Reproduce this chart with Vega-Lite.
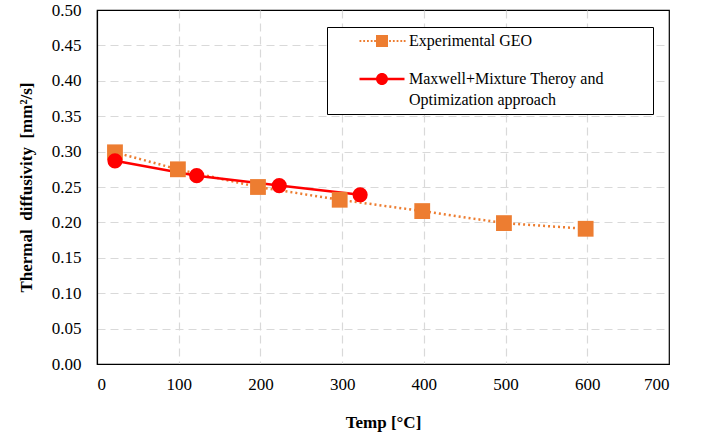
{
  "$schema": "https://vega.github.io/schema/vega-lite/v6.json",
  "autosize": "none",
  "width": 572,
  "height": 354,
  "padding": {"left": 97, "top": 10, "right": 44, "bottom": 72},
  "background": "white",
  "config": {
    "font": "Liberation Serif",
    "view": {"stroke": "black", "strokeWidth": 1.2},
    "axis": {
      "labelFont": "Liberation Serif",
      "labelFontSize": 17,
      "labelColor": "black",
      "titleFont": "Liberation Serif",
      "titleFontSize": 17,
      "titleFontWeight": "bold",
      "titleColor": "black",
      "grid": true,
      "gridColor": "#d9d9d9",
      "gridDash": [8, 5],
      "gridWidth": 1.2,
      "ticks": false,
      "domainColor": "black",
      "domainWidth": 1.2
    }
  },
  "data": {
    "values": [
      {"series": "Experimental GEO", "temp": 22, "diff": 0.299},
      {"series": "Experimental GEO", "temp": 99, "diff": 0.275},
      {"series": "Experimental GEO", "temp": 197, "diff": 0.250},
      {"series": "Experimental GEO", "temp": 297, "diff": 0.232},
      {"series": "Experimental GEO", "temp": 398, "diff": 0.216},
      {"series": "Experimental GEO", "temp": 498, "diff": 0.199},
      {"series": "Experimental GEO", "temp": 598, "diff": 0.191},
      {"series": "Maxwell+Mixture Theroy and Optimization approach", "temp": 22, "diff": 0.287},
      {"series": "Maxwell+Mixture Theroy and Optimization approach", "temp": 122, "diff": 0.266},
      {"series": "Maxwell+Mixture Theroy and Optimization approach", "temp": 223, "diff": 0.252},
      {"series": "Maxwell+Mixture Theroy and Optimization approach", "temp": 322, "diff": 0.239}
    ]
  },
  "encoding": {
    "x": {
      "field": "temp", "type": "quantitative",
      "scale": {"domain": [0, 700], "nice": false},
      "axis": {
        "values": [0, 100, 200, 300, 400, 500, 600, 700],
        "title": "Temp [°C]", "labelPadding": 12, "titlePadding": 22,
        "gridOpacity": {"condition": {"test": "datum.value == 700 || datum.value == 0", "value": 0}, "value": 1}
      }
    },
    "y": {
      "field": "diff", "type": "quantitative",
      "scale": {"domain": [0, 0.5], "nice": false},
      "axis": {
        "values": [0, 0.05, 0.1, 0.15, 0.2, 0.25, 0.3, 0.35, 0.4, 0.45, 0.5],
        "format": ".2f",
        "title": "Thermal\u00a0\u00a0diffusivity\u00a0\u00a0[mm²/s]",
        "labelPadding": 16, "titlePadding": 16,
        "gridOpacity": {"condition": {"test": "datum.value >= 0.499 || datum.value == 0", "value": 0}, "value": 1}
      }
    },
    "color": {
      "field": "series", "type": "nominal",
      "scale": {"domain": ["Experimental GEO", "Maxwell+Mixture Theroy and Optimization approach"], "range": ["#ED7D31", "#FF0000"]},
      "legend": {
        "title": null,
        "orient": "none",
        "legendX": 230,
        "legendY": 17,
        "strokeColor": "black",
        "fillColor": "white",
        "padding": 6,
        "labelFont": "Liberation Serif",
        "labelFontSize": 16,
        "labelColor": "black",
        "labelLimit": 500,
        "rowPadding": 22,
        "symbolSize": 225,
        "symbolOffset": 41,
        "labelOffset": 19,
        "labelExpr": "datum.value == 'Experimental GEO' ? datum.label : ['Maxwell+Mixture Theroy and', 'Optimization approach']",
        "encode": {
          "symbols": {
            "update": {
              "shape": {"signal": "datum.value == 'Experimental GEO' ? 'M-0.8,-0.8H0.8V0.8H-0.8ZM-3,-0.13h0.24v0.26h-0.24ZM-2.5,-0.13h0.24v0.26h-0.24ZM-2,-0.13h0.24v0.26h-0.24ZM-1.5,-0.13h0.24v0.26h-0.24ZM-1.05,-0.13h0.24v0.26h-0.24ZM0.95,-0.13h0.24v0.26h-0.24ZM1.45,-0.13h0.24v0.26h-0.24ZM1.95,-0.13h0.24v0.26h-0.24ZM2.45,-0.13h0.24v0.26h-0.24ZM2.9,-0.13h0.24v0.26h-0.24ZM35.3,0L35.3,0.01' : 'M-3,-0.16H-0.7V0.16H-3ZM0.7,-0.16H3V0.16H0.7ZM-0.8,0A0.8,0.8 0 1,1 0.8,0A0.8,0.8 0 1,1 -0.8,0ZM35.3,0L35.3,0.01'"},
              "strokeWidth": {"value": 0},
              "fillOpacity": {"value": 1},
              "opacity": {"value": 1}
            }
          },
          "labels": {
            "update": {
              "lineHeight": {"value": 21}
            }
          }
        }
      }
    }
  },
  "layer": [
    {
      "transform": [{"filter": "datum.series == 'Experimental GEO'"}],
      "mark": {"type": "line", "strokeWidth": 2.5, "strokeDash": [2, 3]}
    },
    {
      "transform": [{"filter": "datum.series != 'Experimental GEO'"}],
      "mark": {"type": "line", "strokeWidth": 2.5}
    },
    {
      "transform": [{"filter": "datum.series == 'Experimental GEO'"}],
      "mark": {"type": "point", "filled": true, "opacity": 1, "shape": "square", "size": 250}
    },
    {
      "transform": [{"filter": "datum.series != 'Experimental GEO'"}],
      "mark": {"type": "point", "filled": true, "opacity": 1, "shape": "circle", "size": 230}
    }
  ]
}
